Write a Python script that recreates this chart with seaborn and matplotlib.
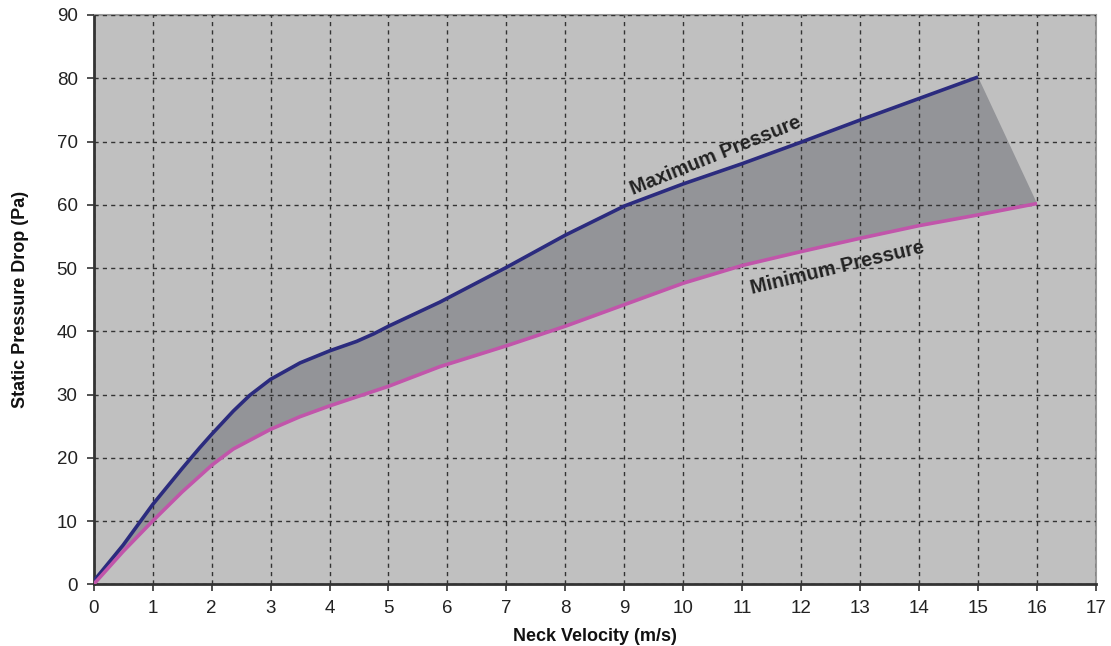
import matplotlib
matplotlib.use("Agg")
import matplotlib.pyplot as plt
import seaborn as sns
import pandas as pd

# Maximum pressure curve
max_velocity = [0, 0.5, 1, 1.5, 1.8, 2, 2.37, 2.65, 3, 3.5, 4, 4.46, 4.75, 5, 5.87, 7, 8, 9, 10, 11, 12, 13, 14, 15]
max_pressure = [0.5, 6.2, 12.6, 18.3, 21.6, 23.7, 27.4, 29.9, 32.4, 35.0, 36.9, 38.4, 39.6, 40.8, 44.6, 50.1, 55.2, 59.8, 63.3, 66.5, 69.9, 73.4, 76.8, 80.2]

# Minimum pressure curve
min_velocity = [0, 0.5, 1, 1.5, 2, 2.14, 2.37, 3, 3.5, 4, 5, 5.87, 7, 8, 9, 10, 11, 12, 13, 14, 15, 16]
min_pressure = [0, 5.2, 10.0, 14.6, 18.8, 19.8, 21.4, 24.5, 26.5, 28.2, 31.3, 34.4, 37.7, 40.8, 44.2, 47.6, 50.4, 52.6, 54.7, 56.7, 58.4, 60.2]

x_ticks = list(range(0, 18))
y_ticks = list(range(0, 100, 10))

df = pd.concat([
    pd.DataFrame({"velocity": max_velocity, "pressure": max_pressure, "curve": "Maximum Pressure"}),
    pd.DataFrame({"velocity": min_velocity, "pressure": min_pressure, "curve": "Minimum Pressure"}),
])

sns.set_style("ticks")
plt.rcParams["font.family"] = ["Liberation Sans", "DejaVu Sans"]

fig = plt.figure(figsize=(11.11, 6.46), dpi=100)
ax = fig.add_axes([0.0843, 0.0955, 0.9022, 0.8813])
ax.set_facecolor("#c0c0c0")

# band between the curves (closed by a straight edge at the right)
poly_x = max_velocity + min_velocity[::-1]
poly_y = max_pressure + min_pressure[::-1]
ax.fill(poly_x, poly_y, color="#939498", zorder=1, linewidth=0)

sns.lineplot(data=df, x="velocity", y="pressure", hue="curve",
             palette={"Maximum Pressure": "#2b2b7e", "Minimum Pressure": "#c155aa"},
             linewidth=2.6, legend=False, ax=ax, zorder=3, sort=False)
for line in ax.lines:
    line.set_solid_joinstyle("round")
    line.set_solid_capstyle("butt")

ax.set_xlim(0, 17)
ax.set_ylim(0, 90)
ax.set_xticks(x_ticks)
ax.set_yticks(y_ticks)
ax.set_axisbelow(False)
ax.grid(True, color="#333333", linestyle=(0, (3, 3)), linewidth=1.0, zorder=2)

for side in ["left", "bottom"]:
    ax.spines[side].set_color("#333333")
    ax.spines[side].set_linewidth(2.0)
for side in ["top", "right"]:
    ax.spines[side].set_color("#999999")
    ax.spines[side].set_linewidth(1.5)

ax.tick_params(axis="both", direction="out", length=5, width=1.2, color="#333333",
               labelsize=13.5, labelcolor="#222222", pad=6.5)

ax.set_xlabel("Neck Velocity (m/s)", fontsize=13, fontweight="bold", color="#111111", labelpad=8)
ax.set_ylabel("Static Pressure Drop (Pa)", fontsize=13, fontweight="bold", color="#111111", labelpad=20)

ax.text(10.54, 67.7, "Maximum Pressure", rotation=22, rotation_mode="anchor",
        ha="center", va="center", fontsize=14.3, fontweight="bold",
        color="#222222", zorder=4)
ax.text(12.61, 50.05, "Minimum Pressure", rotation=13.5, rotation_mode="anchor",
        ha="center", va="center", fontsize=14.3, fontweight="bold",
        color="#222222", zorder=4)

fig.savefig("out.png", dpi=100)
